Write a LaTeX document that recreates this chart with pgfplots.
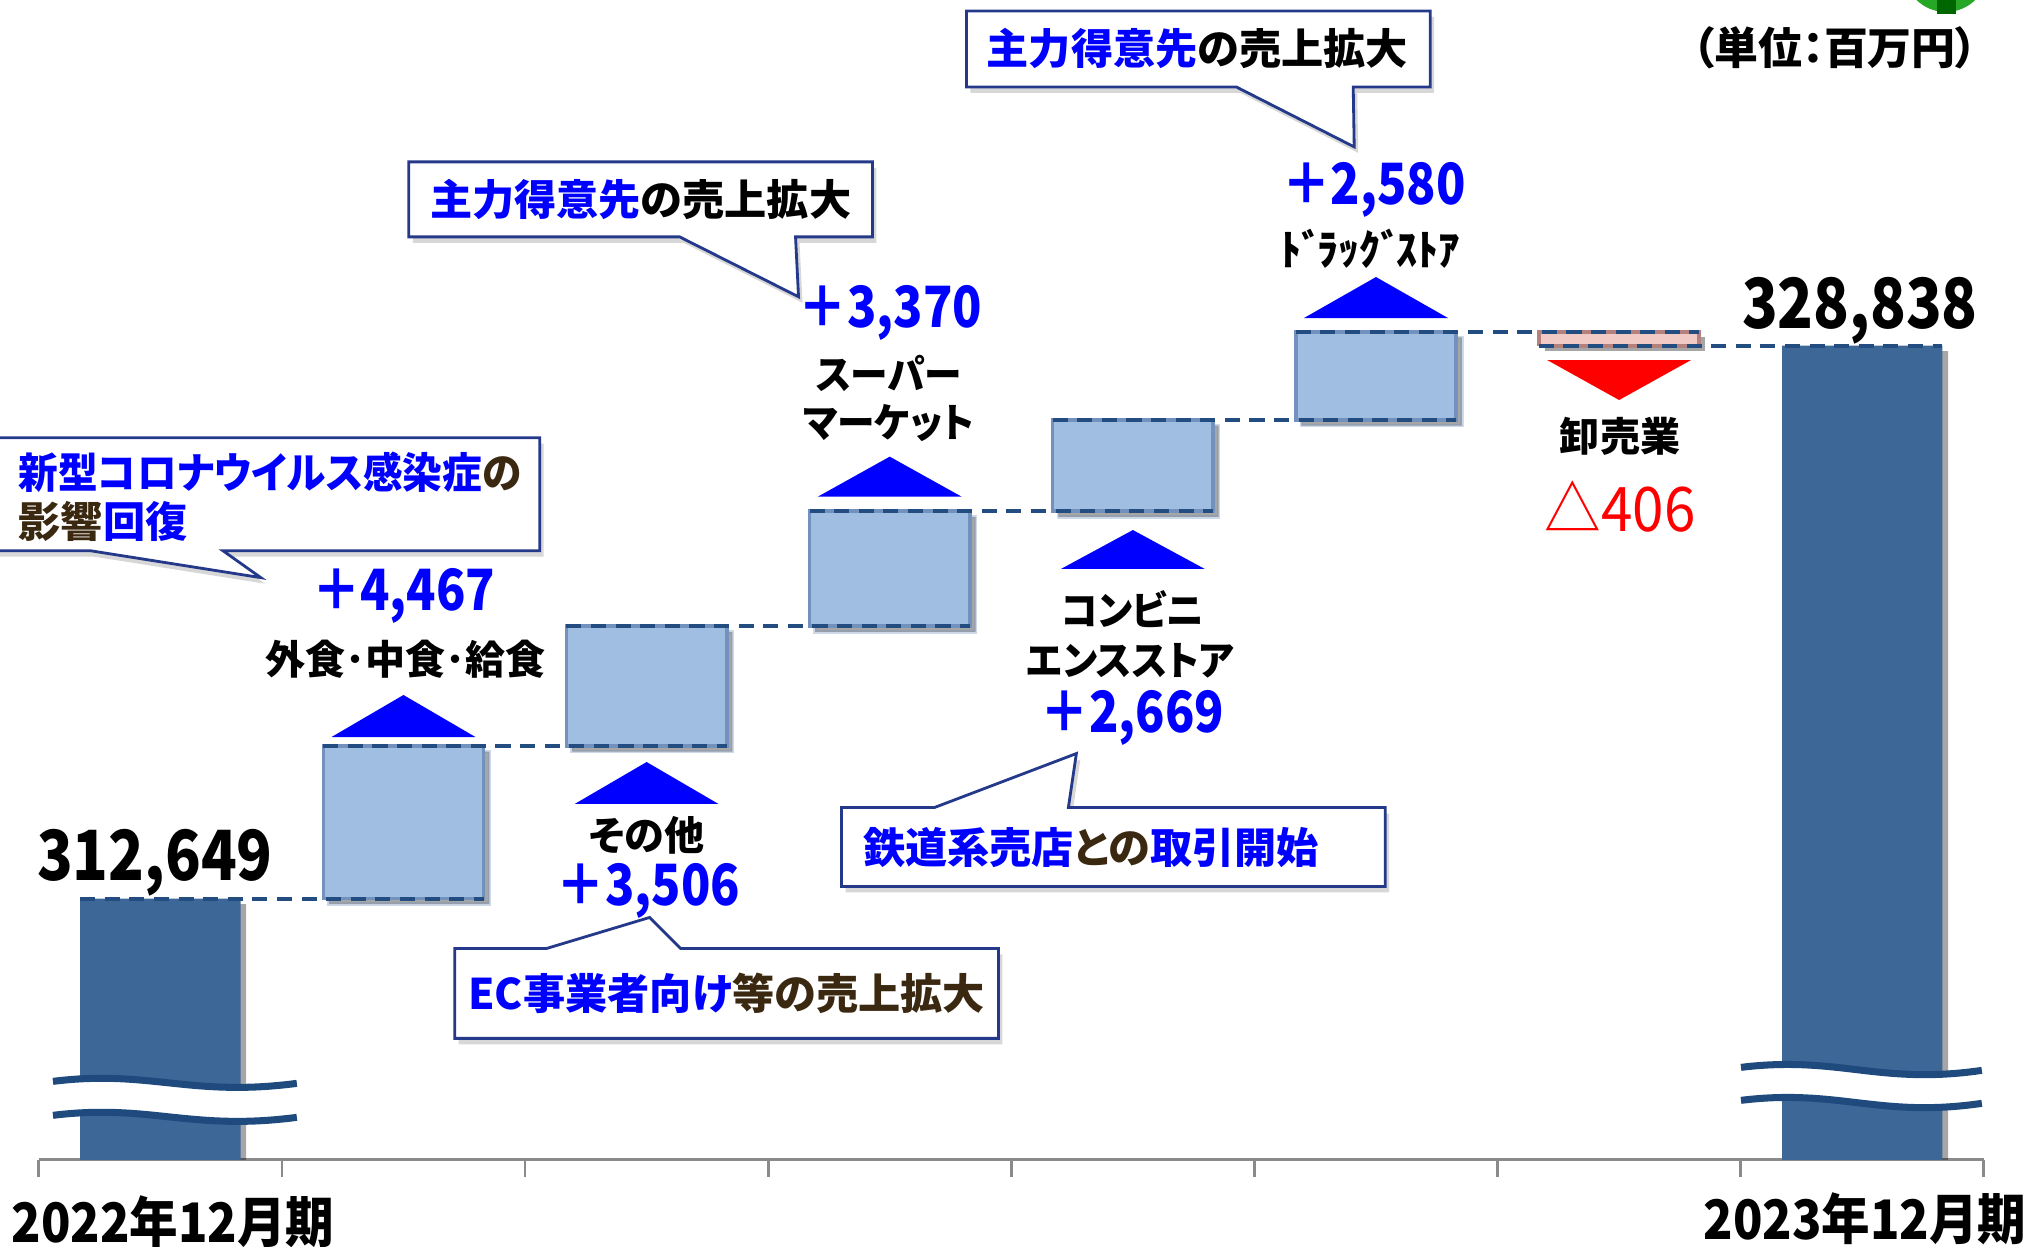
\documentclass[border=0pt]{standalone}
\usepackage{fontspec}
\usepackage{pgfplots}
\pgfplotsset{compat=1.18}
\usetikzlibrary{shadows}
\setmainfont{Noto Sans CJK JP}[RawFeature=+palt]
\newfontfamily\num{Noto Sans CJK JP}[FakeStretch=0.92,RawFeature=+palt]
\newfontfamily\numc{Noto Sans CJK JP}[FakeStretch=0.85,RawFeature=+palt]
\newfontfamily\numy{Noto Sans CJK JP}[FakeStretch=0.89,RawFeature=+palt]
\newfontfamily\cond{Noto Sans CJK JP}[FakeStretch=0.94,RawFeature=+palt]
\newfontfamily\plain{Noto Sans CJK JP}
\definecolor{darkbar}{HTML}{3D6797}
\definecolor{lightbar}{HTML}{A0BDE2}
\definecolor{lightedge}{HTML}{7291BC}
\definecolor{dashc}{HTML}{234C80}
\definecolor{jblue}{HTML}{0000FF}
\definecolor{jred}{HTML}{FF0000}
\definecolor{pinkbar}{HTML}{F1C9C5}
\definecolor{pinkedge}{HTML}{B5817D}
\definecolor{callb}{HTML}{24398A}
\definecolor{brn}{HTML}{3A2810}
\definecolor{axgray}{HTML}{8A8A8A}
\definecolor{wave}{HTML}{1F4A7D}
\pgfplotsset{wf/.style={scale only axis, width=19.45cm, height=11.272cm,
  xmin=-0.5, xmax=7.5, ymin=305000, ymax=338000,
  at={(0.388cm,0.87cm)}, anchor=south west}}
\tikzset{
  bignum/.style={font=\numc\bfseries\fontsize{19.7}{21}\selectfont, inner sep=0pt},
  bluenum/.style={text=jblue, font=\numc\bfseries\fontsize{16.2}{17}\selectfont, inner sep=0pt},
  lab/.style={font=\bfseries\fontsize{11.4}{12}\selectfont, inner sep=0pt},
  labk/.style={font=\cond\bfseries\fontsize{11.4}{12}\selectfont, inner sep=0pt},
  calltxt/.style={font=\bfseries\fontsize{12}{13}\selectfont, inner sep=0pt},
  callbox/.style={fill=white, draw=callb, line width=0.8pt, line join=miter},
  callshadow/.style={fill=black!35, opacity=0.45, draw=none},
  dl/.style={dashc, line width=1.1pt, dash pattern=on 4.3pt off 2.7pt},
  shd/.style={drop shadow={shadow xshift=1.6pt, shadow yshift=-1.6pt, opacity=0.35, fill=black}}
}
\begin{document}
\begin{tikzpicture}
\useasboundingbox (0,0) rectangle (20.28cm,12.47cm);
% ---- bars ----
\begin{axis}[wf, ybar stacked, bar width=0.66,
  axis y line=none, axis x line=bottom,
  x axis line style={draw=axgray, line width=0.8pt, -},
  xtick={-0.5,0.5,...,7.5}, xticklabels={},
  tick align=outside, major tick length=0.17cm,
  xtick style={draw=axgray, line width=0.8pt}]
\addplot[fill=none, draw=none] coordinates {(0,0) (1,312649) (2,317116) (3,320622) (4,323992) (5,326661) (6,328835) (7,0)};
\addplot[fill=darkbar, draw=none, shd] coordinates {(0,312649) (1,0) (2,0) (3,0) (4,0) (5,0) (6,0) (7,328838)};
\addplot[fill=lightbar, draw=lightedge, line width=1pt, shd] coordinates {(0,0) (1,4467) (2,3506) (3,3370) (4,2669) (5,2580) (6,0) (7,0)};
\addplot[fill=pinkbar, draw=none, shd] coordinates {(0,0) (1,0) (2,0) (3,0) (4,0) (5,0) (6,406) (7,0)};
\end{axis}
% ---- lines, triangles ----
\begin{axis}[wf, hide axis, clip=false]
\addplot[draw=pinkedge, line width=1.2pt] coordinates {(5.67,328835) (6.33,328835) (6.33,329241) (5.67,329241) (5.67,328835)};
\addplot[dl] coordinates {(-0.33,312649) (1.33,312649)};
\addplot[dl] coordinates {(0.67,317116) (2.33,317116)};
\addplot[dl] coordinates {(1.67,320622) (3.33,320622)};
\addplot[dl] coordinates {(2.67,323992) (4.33,323992)};
\addplot[dl] coordinates {(3.67,326661) (5.33,326661)};
\addplot[dl] coordinates {(4.67,329241) (6.33,329241)};
\addplot[dl] coordinates {(5.67,328835) (7.33,328835)};
% triangles
\addplot[fill=jblue, draw=none] coordinates {(0.704,317383) (1.296,317383) (1,318613)};
\addplot[fill=jblue, draw=none] coordinates {(1.704,315422) (2.296,315422) (2,316651)};
\addplot[fill=jblue, draw=none] coordinates {(2.704,324418) (3.296,324418) (3,325591)};
\addplot[fill=jblue, draw=none] coordinates {(3.704,322302) (4.296,322302) (4,323443)};
\addplot[fill=jblue, draw=none] coordinates {(4.704,329650) (5.296,329650) (5,330850)};
\addplot[fill=jred, draw=none] coordinates {(5.704,328420) (6.296,328420) (6,327249)};
\end{axis}
% ---- decorations in image pixel coordinates ----
\begin{scope}[shift={(0,12.47cm)}, x=0.01cm, y=-0.01cm]
% axis breaks
\fill[white] (53,1082) .. controls (150,1070) and (190,1098) .. (297,1084) -- (297,1118) .. controls (190,1132) and (150,1104) .. (53,1116) -- cycle;
\draw[wave, line width=2pt] (53,1082) .. controls (150,1070) and (190,1098) .. (297,1084);
\draw[wave, line width=2pt] (53,1116) .. controls (150,1104) and (190,1132) .. (297,1118);
\fill[white] (1742,1068) .. controls (1840,1056) and (1880,1086) .. (1983,1071) -- (1983,1104) .. controls (1880,1119) and (1840,1089) .. (1742,1101) -- cycle;
\draw[wave, line width=2pt] (1742,1068) .. controls (1840,1056) and (1880,1086) .. (1983,1071);
\draw[wave, line width=2pt] (1742,1101) .. controls (1840,1089) and (1880,1119) .. (1983,1104);
% callout shadows
\fill[callshadow, shift={(4,6)}] (967,11) -- (1431,11) -- (1431,87) -- (1354,87) -- (1355,147) -- (1237,87) -- (967,87) -- cycle;
\fill[callshadow, shift={(4,6)}] (409,162) -- (873,162) -- (873,237) -- (796,237) -- (799,297) -- (680,237) -- (409,237) -- cycle;
\fill[callshadow, shift={(4,6)}] (-5,438) -- (540,438) -- (540,551) -- (223,551) -- (261,578) -- (90,551) -- (-5,551) -- cycle;
\fill[callshadow, shift={(4,6)}] (455,949) -- (547,949) -- (650,918) -- (681,949) -- (999,949) -- (999,1039) -- (455,1039) -- cycle;
\fill[callshadow, shift={(4,6)}] (842,808) -- (935,808) -- (1077,754) -- (1069,808) -- (1386,808) -- (1386,887) -- (842,887) -- cycle;
% callouts
\draw[callbox] (967,11) -- (1431,11) -- (1431,87) -- (1354,87) -- (1355,147) -- (1237,87) -- (967,87) -- cycle;
\draw[callbox] (409,162) -- (873,162) -- (873,237) -- (796,237) -- (799,297) -- (680,237) -- (409,237) -- cycle;
\draw[callbox] (-5,438) -- (540,438) -- (540,551) -- (223,551) -- (261,578) -- (90,551) -- (-5,551) -- cycle;
\draw[callbox] (455,949) -- (547,949) -- (650,918) -- (681,949) -- (999,949) -- (999,1039) -- (455,1039) -- cycle;
\draw[callbox] (842,808) -- (935,808) -- (1077,754) -- (1069,808) -- (1386,808) -- (1386,887) -- (842,887) -- cycle;
\node[calltxt] at (1198,49) {\textcolor{jblue}{主力得意先}の売上拡大};
\node[calltxt] at (641,200) {\textcolor{jblue}{主力得意先}の売上拡大};
\node[calltxt, font=\cond\bfseries\fontsize{12}{13}\selectfont, anchor=west] at (18,473) {\textcolor{jblue}{新型コロナウイルス感染症}\textcolor{brn}{の}};
\node[calltxt, anchor=west] at (18,522) {\textcolor{brn}{影響}\textcolor{jblue}{回復}};
\node[calltxt] at (727,994) {\textcolor{jblue}{EC事業者向け}\textcolor{brn}{等の売上拡大}};
\node[calltxt, anchor=west] at (863,848) {\textcolor{jblue}{鉄道系売店}\textcolor{brn}{との}\textcolor{jblue}{取引開始}};
% value labels
\node[bignum] at (155,863) {312,649};
\node[bignum] at (1861,311) {328,838};
\node[bluenum] at (404,596) {＋4,467};
\node[bluenum] at (649,891) {＋3,506};
\node[bluenum] at (891,313) {＋3,370};
\node[bluenum] at (1133,718) {＋2,669};
\node[bluenum] at (1375,190) {＋2,580};
\node[text=jred, font=\num\fontsize{17.5}{18}\selectfont, inner sep=0pt] at (1621,507) {△406};
% category labels
\node[lab] at (406,660) {外食･中食･給食};
\node[lab] at (647,836) {その他};
\node[labk] at (889,374) {スーパー};
\node[labk] at (889,423) {マーケット};
\node[labk] at (1133,609) {コンビニ};
\node[labk] at (1131,661) {エンスストア};
\node[font=\plain\bfseries\fontsize{12}{13}\selectfont, inner sep=0pt] at (1371,249) {ﾄﾞ\kern-.13emﾗｯｸﾞ\kern-.13emｽﾄｱ};
\node[lab] at (1621,437) {卸売業};
\node[font=\bfseries\fontsize{12.5}{13}\selectfont, inner sep=0pt] at (1836,48) {（単位：百万円）};
\node[font=\numy\bfseries\fontsize{15.5}{16}\selectfont, inner sep=0pt] at (173,1222) {2022年12月期};
\node[font=\numy\bfseries\fontsize{15.5}{16}\selectfont, inner sep=0pt] at (1866,1219) {2023年12月期};
% logo fragment
\fill[green!60!black!85] (1947,-30) circle (42);
\fill[green!40!black] (1938,-5) rectangle (1957,14);
\end{scope}
\end{tikzpicture}
\end{document}
